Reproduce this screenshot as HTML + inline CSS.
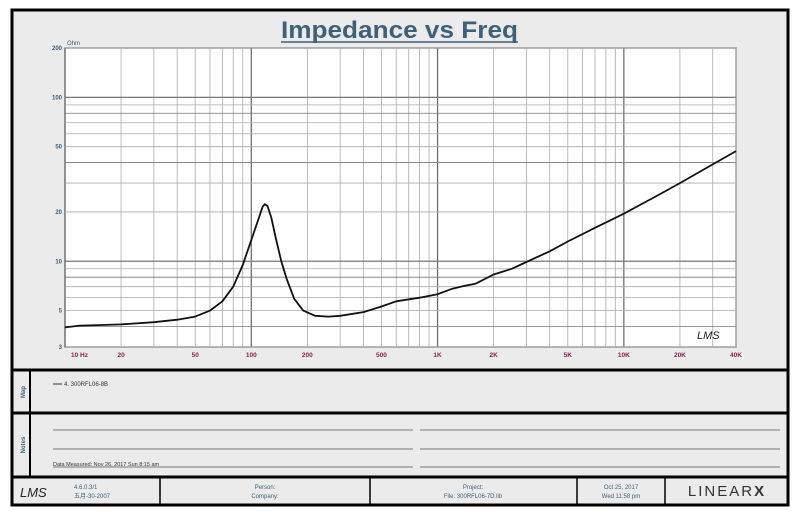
<!DOCTYPE html>
<html><head><meta charset="utf-8"><style>
body{margin:0;background:#fff;width:800px;height:515px;overflow:hidden;font-family:"Liberation Sans","Noto Sans CJK SC",sans-serif}
svg{display:block}
</style></head><body>
<svg width="800" height="515" id="svg">
<rect x="12" y="10" width="776" height="495" fill="#ebebeb" stroke="#000" stroke-width="3"/>
<text x="281" y="38" textLength="237" lengthAdjust="spacingAndGlyphs" font-size="24" font-weight="bold" fill="#3f6079">Impedance vs Freq</text>
<line x1="281" y1="42" x2="518" y2="42" stroke="#3f6079" stroke-width="1.5"/>
<rect x="65" y="48" width="671" height="299" fill="#fff" stroke="#555" stroke-width="1.2"/>
<g id="grid"></g>
<g id="ticks"></g>
<text x="67" y="45" font-size="6" fill="#3f6079">Ohm</text>
<path id="curve" fill="none" stroke="#111" stroke-width="1.8" stroke-linejoin="round"/>
<text x="697" y="339" font-size="11" font-style="italic" fill="#222">LMS</text>
<line x1="12" y1="370" x2="788" y2="370" stroke="#000" stroke-width="3"/>
<line x1="12" y1="413" x2="788" y2="413" stroke="#000" stroke-width="3"/>
<line x1="12" y1="477" x2="788" y2="477" stroke="#000" stroke-width="3"/>
<line x1="30" y1="370" x2="30" y2="477" stroke="#000" stroke-width="2"/>
<text transform="translate(25,392) rotate(-90)" text-anchor="middle" font-size="6" font-weight="bold" fill="#3f6079">Map</text>
<text transform="translate(25,445) rotate(-90)" text-anchor="middle" font-size="6" font-weight="bold" fill="#3f6079">Notes</text>
<line x1="53" y1="384" x2="62" y2="384" stroke="#333"/>
<text x="64" y="386" font-size="6" fill="#333">4. 300RFL06-8B</text>
<g stroke="#777" stroke-width="1">
<line x1="53" y1="430" x2="413" y2="430"/><line x1="420" y1="430" x2="780" y2="430"/>
<line x1="53" y1="449" x2="413" y2="449"/><line x1="420" y1="449" x2="780" y2="449"/>
<line x1="53" y1="467" x2="413" y2="467"/><line x1="420" y1="467" x2="780" y2="467"/>
</g>
<text x="53" y="466" font-size="5.5" fill="#333">Data Measured: Nov 26, 2017  Sun  8:15 am</text>
<g stroke="#000" stroke-width="1.5">
<line x1="160" y1="477" x2="160" y2="505"/><line x1="370" y1="477" x2="370" y2="505"/>
<line x1="577" y1="477" x2="577" y2="505"/><line x1="665" y1="477" x2="665" y2="505"/>
</g>
<text x="20" y="497" font-size="13" font-style="italic" fill="#222">LMS</text>
<text x="74" y="489" font-size="6" fill="#3f6079">4.6.0.3/1</text>
<text x="74" y="498" font-size="6" fill="#3f6079">五月-30-2007</text>
<text x="265" y="489" text-anchor="middle" font-size="6" fill="#3f6079">Person:</text>
<text x="265" y="498" text-anchor="middle" font-size="6" fill="#3f6079">Company:</text>
<text x="473" y="489" text-anchor="middle" font-size="6" fill="#3f6079">Project:</text>
<text x="473" y="498" text-anchor="middle" font-size="6" fill="#3f6079">File: 300RFL06-7D.lib</text>
<text x="621" y="489" text-anchor="middle" font-size="6" fill="#3f6079">Oct 25, 2017</text>
<text x="621" y="498" text-anchor="middle" font-size="6" fill="#3f6079">Wed 11:58 pm</text>
<text x="727" y="496" text-anchor="middle" font-size="15" fill="#333" letter-spacing="2">LINEAR<tspan font-weight="bold">X</tspan></text>
</svg>
<script>
const freqs=[10,12,15,20,30,40,50,60,70,80,90,100,110,115,118,122,128,135,145,155,170,190,220,260,300,400,500,600,800,1000,1200,1400,1600,2000,2500,3000,4000,5000,7000,10000,15000,20000,30000,40000];
const ohms=[3.95,4.05,4.08,4.12,4.25,4.4,4.6,5.0,5.7,7.0,9.5,13.5,18.5,21.5,22.3,21.8,18.5,14,10,7.8,5.9,5.0,4.65,4.6,4.65,4.9,5.3,5.7,6.0,6.3,6.8,7.1,7.3,8.3,9.0,9.9,11.5,13.2,16,19.5,25,30,39,47];
const xTicks=[10,20,50,100,200,500,1000,2000,5000,10000,20000,40000];
const xLabels=["10  Hz","20","50","100","200","500","1K","2K","5K","10K","20K","40K"];
const yTicks=[3,5,10,20,50,100,200];
const yLabels=["3","5","10","20","50","100","200"];
const X0=65,X1=736,Y0=48,Y1=347,FMIN=10,FMAX=40000,ZMIN=3,ZMAX=200;
const xs=f=>X0+(X1-X0)*Math.log10(f/FMIN)/Math.log10(FMAX/FMIN);
const ys=z=>Y1-(Y1-Y0)*Math.log10(z/ZMIN)/Math.log10(ZMAX/ZMIN);
const NS="http://www.w3.org/2000/svg";
const grid=document.getElementById('grid'),ticks=document.getElementById('ticks');
function ln(x1,y1,x2,y2,c,w){const l=document.createElementNS(NS,'line');l.setAttribute('x1',x1);l.setAttribute('y1',y1);l.setAttribute('x2',x2);l.setAttribute('y2',y2);l.setAttribute('stroke',c);l.setAttribute('stroke-width',w);


grid.appendChild(l);}
for(let d=10;d<=10000;d*=10)for(let m=1;m<10;m++){const f=d*m;if(f>FMAX)break;const x=xs(f);ln(x,Y0,x,Y1,m==1?'#666':'#aaa',m==1?1.2:0.8);}
for(let d=1;d<=100;d*=10)for(let m=1;m<10;m++){const z=d*m;if(z<ZMIN||z>ZMAX)continue;const y=ys(z);ln(X0,y,X1,y,(m==1||m==4||m==8)?'#777':'#aaa',(m==1)?1.2:0.8);}
xTicks.forEach((f,i)=>{const t=document.createElementNS(NS,'text');t.setAttribute('x',xs(f)+(i==0?6:0));t.setAttribute('y',357);t.setAttribute('text-anchor',i==0?'start':'middle');t.setAttribute('font-size','6.5');t.setAttribute('font-weight','bold');t.setAttribute('fill','#8a2050');t.textContent=xLabels[i];


ticks.appendChild(t);});
yTicks.forEach((z,i)=>{const t=document.createElementNS(NS,'text');t.setAttribute('x',62);t.setAttribute('y',ys(z)+2);t.setAttribute('text-anchor','end');t.setAttribute('font-size','6');t.setAttribute('font-weight','bold');t.setAttribute('fill','#3f6079');t.textContent=yLabels[i];


ticks.appendChild(t);});
document.getElementById('curve').setAttribute('d',freqs.map((f,i)=>(i?'L':'M')+xs(f).toFixed(1)+','+ys(ohms[i]).toFixed(1)).join(' '));
</script>
</body></html>
